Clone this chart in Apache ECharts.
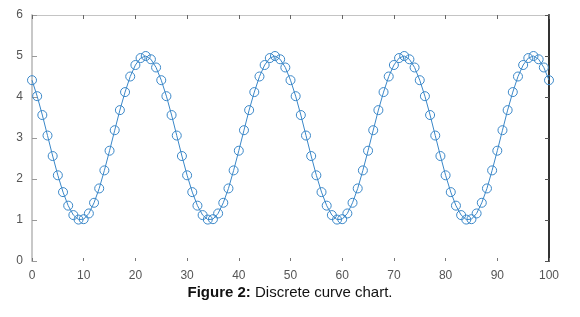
<!DOCTYPE html>
<html>
<head>
<meta charset="utf-8">
<script src="https://cdn.jsdelivr.net/npm/echarts@6/dist/echarts.min.js"></script>
<style>
  html, body { margin: 0; padding: 0; background: #fff; }
  #chart { width: 580px; height: 317px; }
</style>
</head>
<body>
<div id="chart"></div>
<script>
// y值，x为0..100的下标
var yValues = [
  4.41, 4.02, 3.56, 3.06, 2.56, 2.09, 1.68, 1.35, 1.12, 1.01,
  1.02, 1.16, 1.42, 1.77, 2.21, 2.69, 3.19, 3.68, 4.12, 4.50,
  4.78, 4.95, 5.00, 4.92, 4.72, 4.41, 4.02, 3.56, 3.06, 2.56,
  2.09, 1.68, 1.35, 1.12, 1.01, 1.02, 1.16, 1.42, 1.77, 2.21,
  2.69, 3.19, 3.68, 4.12, 4.50, 4.78, 4.95, 5.00, 4.92, 4.72,
  4.41, 4.02, 3.56, 3.06, 2.56, 2.09, 1.68, 1.35, 1.12, 1.01,
  1.02, 1.16, 1.42, 1.77, 2.21, 2.69, 3.19, 3.68, 4.12, 4.50,
  4.78, 4.95, 5.00, 4.92, 4.72, 4.41, 4.02, 3.56, 3.06, 2.56,
  2.09, 1.68, 1.35, 1.12, 1.01, 1.02, 1.16, 1.42, 1.77, 2.21,
  2.69, 3.19, 3.68, 4.12, 4.50, 4.78, 4.95, 5.00, 4.92, 4.72,
  4.41
]
var caption = 'Figure 2:'
var captionRest = ' Discrete curve chart.'

var myChart = echarts.init(document.getElementById('chart'))
var lineColor = '#3a87c8'
var option = {
  animation: false,
  grid: { left: 32, right: 31, top: 15, bottom: 56 },
  xAxis: [
    {
      type: 'value',
      min: 0,
      max: 100,
      interval: 10,
      axisLine: { show: false, onZero: false },
      axisTick: { show: true, inside: true, length: 3, lineStyle: { color: '#777' } },
      axisLabel: { color: '#555', fontSize: 12, fontFamily: 'Liberation Sans', margin: 9 },
      splitLine: { show: false }
    },
    {
      type: 'value',
      position: 'top',
      min: 0,
      max: 100,
      interval: 10,
      axisLine: { show: true, onZero: false, lineStyle: { color: '#c4c4c4', width: 1 } },
      axisTick: { show: true, inside: true, length: 4, lineStyle: { color: '#666' } },
      axisLabel: { show: false },
      splitLine: { show: false }
    }
  ],
  yAxis: [
    {
      type: 'value',
      min: 0,
      max: 6,
      interval: 1,
      axisLine: { show: true, onZero: false, lineStyle: { color: '#c8c8c8', width: 2 } },
      axisTick: { show: true, inside: true, length: 5, lineStyle: { color: '#999' } },
      axisLabel: { color: '#555', fontSize: 12, fontFamily: 'Liberation Sans', margin: 9 },
      splitLine: { show: false }
    },
    {
      type: 'value',
      position: 'right',
      min: 0,
      max: 6,
      interval: 1,
      axisLine: { show: true, onZero: false, lineStyle: { color: '#333', width: 2 } },
      axisTick: { show: true, inside: true, length: 4, lineStyle: { color: '#555' } },
      axisLabel: { show: false },
      splitLine: { show: false }
    }
  ],
  series: [
    {
      type: 'line',
      data: yValues.map(function(y, i) { return [i, y] }),
      symbol: 'circle',
      symbolSize: 9,
      showAllSymbol: true,
      lineStyle: { color: lineColor, width: 1 },
      itemStyle: { color: 'rgba(255,255,255,0)', borderColor: lineColor, borderWidth: 1 }
    }
  ],
  graphic: [
    {
      type: 'text',
      left: 'center',
      top: 285,
      style: {
        text: '{b|' + caption + '}{r|' + captionRest + '}',
        rich: {
          b: { fontSize: 15, fontWeight: 'bold', fontFamily: 'Liberation Sans', fill: '#111' },
          r: { fontSize: 15, fontFamily: 'Liberation Sans', fill: '#111' }
        }
      }
    }
  ]
}
myChart.setOption(option)
</script>
</body>
</html>
